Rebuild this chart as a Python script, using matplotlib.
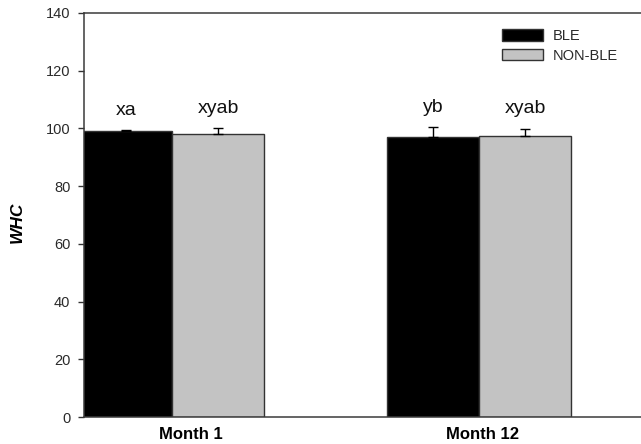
import matplotlib
matplotlib.use("Agg")
import matplotlib.pyplot as plt
import numpy as np

plt.rcParams['font.family'] = ['Liberation Sans', 'DejaVu Sans']

months = ["Month 1", "Month 12"]
series = ["BLE", "NON-BLE"]
ble_mean = [99.1, 97.1]
ble_err = [0.3, 3.3]
nonble_mean = [98.2, 97.5]
nonble_err = [1.8, 2.4]
ble_letters = ["xa", "yb"]
nonble_letters = ["xyab", "xyab"]

fig = plt.figure(figsize=(6.41, 4.44), dpi=100)
ax = fig.add_axes([84 / 641, 27 / 444, 563 / 641, 404 / 444])

x = np.arange(len(months))
w = 0.30
edge = "#333333"

for offset, means, errs, letters, color, name in [
    (-w / 2, ble_mean, ble_err, ble_letters, "black", series[0]),
    (w / 2, nonble_mean, nonble_err, nonble_letters, "#c3c3c3", series[1]),
]:
    pos = x + offset
    ax.bar(pos, means, width=w, color=color, edgecolor=edge, linewidth=1.0,
           label=name, zorder=2)
    ax.errorbar(pos, means, yerr=[np.zeros(len(errs)), errs], fmt="none",
                ecolor="black", elinewidth=1.0, capsize=3.6, capthick=1.0,
                zorder=3)
    for xi, m, e, t in zip(pos, means, errs, letters):
        ax.text(xi, m + e + 5.3, t, ha="center", va="baseline",
                fontsize=14, color="#111111")

ax.set_xlim(-0.287, 1.547)
ax.set_ylim(0, 140)
ax.set_yticks(np.arange(0, 141, 20))
ax.tick_params(axis="y", direction="out", length=4.3, width=1.0,
               color="#333333", labelsize=10.5, labelcolor="#2a2a2a", pad=5.5)

# category labels sit slightly right of the group centres
ax.set_xticks(x + np.array([0.06, 0.01]))
ax.set_xticklabels(months, fontweight="bold", fontsize=12)
ax.tick_params(axis="x", length=0, pad=7)

for side in ["left", "bottom", "top"]:
    ax.spines[side].set_color("#3a3a3a")
    ax.spines[side].set_linewidth(1.1)
ax.spines["right"].set_visible(False)

ax.set_ylabel("WHC", fontsize=12.5, fontweight="bold", fontstyle="italic")
ax.yaxis.set_label_coords(25 / 641, 0.5, transform=fig.transFigure)

leg = ax.legend(loc="upper left", bbox_to_anchor=(502 / 641, 1 - 29 / 444),
                bbox_transform=fig.transFigure, frameon=False, fontsize=10.5,
                handlelength=2.8, handleheight=0.8, handletextpad=0.7,
                labelspacing=0.4, borderpad=0, borderaxespad=0)
for t in leg.get_texts():
    t.set_color("#2a2a2a")

fig.savefig("out.png", dpi=100)
